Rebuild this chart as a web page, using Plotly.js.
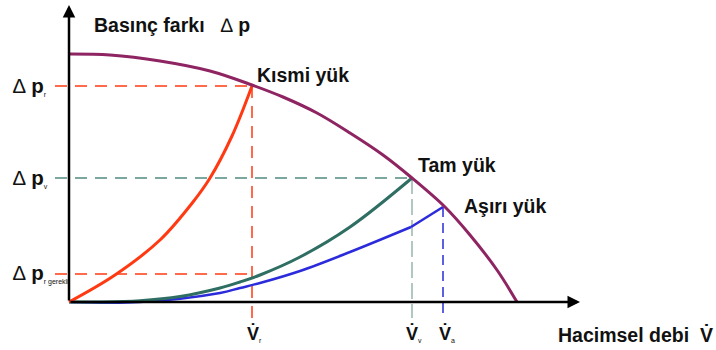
<!DOCTYPE html>
<html>
<head>
<meta charset="utf-8">
<script src="https://cdn.plot.ly/plotly-3.0.1.min.js"></script>
<style>
  html, body { margin: 0; padding: 0; background: #fff; }
  #chart { width: 716px; height: 350px; }
</style>
</head>
<body>
<div id="chart"></div>
<script>
// Pump characteristic (Δp over volume flow), in arbitrary units
const pumpQ  = [0, 0.41, 0.91, 1.41, 1.83, 2.14, 2.48, 2.81, 3.14, 3.43, 3.76, 4.01, 4.28, 4.48];
const pumpDp = [2.48, 2.47, 2.41, 2.31, 2.17, 2.05, 1.89, 1.69, 1.47, 1.24, 0.95, 0.67, 0.32, 0];

// System curve – partial load
const partQ  = [0, 0.46, 0.91, 1.24, 1.41, 1.63, 1.83];
const partDp = [0, 0.27, 0.62, 1.00, 1.24, 1.66, 2.16];

// System curve – full load
const fullQ  = [0, 0.31, 0.71, 1.11, 1.51, 1.71, 1.91, 2.31, 2.81, 3.43];
const fullDp = [0, 0, 0.013, 0.055, 0.14, 0.20, 0.27, 0.45, 0.75, 1.24];

// System curve – overload (bends at the last point before the operating point)
const overQ  = [0, 0.71, 1.51, 1.71, 1.91, 2.31, 2.81, 3.42, 3.74];
const overDp = [0, 0, 0.09, 0.14, 0.19, 0.31, 0.50, 0.75, 0.95];

// Operating points and the required pressure
const opNames = ["Kısmi yük", "Tam yük", "Aşırı yük"];
const opQ     = [1.83, 3.43, 3.74];
const opDp    = [2.16, 1.24, 0.95];
const dpRequired = 0.28;

// Axis labels
const qLabels  = ["r", "v", "a"];
const dpLabels = ["r", "v"];
const yTitle = "Basınç farkı";
const xTitle = "Hacimsel debi";

const RED = "#ff3a12", GREEN = "#2f6e63", BLUE = "#2b2bdc", PURPLE = "#8e2462";
const FAMILY = "Liberation Sans, Arial, sans-serif";
const labelFont = { family: FAMILY, size: 19.5, color: "#111" };
const tickFont  = { family: FAMILY, size: 20.5, color: "#111" };
const flowFont  = { family: FAMILY, size: 18, color: "#111" };
const dashX0 = -0.14, dashYBottom = -0.16;

function line(x, y, color, width, dash, shape) {
  return { x: x, y: y, mode: "lines", hoverinfo: "skip", showlegend: false,
           line: { color: color, width: width, dash: dash || "solid", shape: shape || "linear", smoothing: 1 } };
}

const nOver = overQ.length;
const traces = [
  // reference dashes to the Δp axis
  line([dashX0, opQ[0]], [opDp[0], opDp[0]], RED, 1.5, "12px,8px"),
  line([dashX0, opQ[1]], [opDp[1], opDp[1]], "#4f8a80", 1.5, "12px,8px"),
  line([dashX0, opQ[0]], [dpRequired, dpRequired], RED, 1.5, "12px,8px"),
  // reference dashes to the flow axis
  line([opQ[0], opQ[0]], [opDp[0], dashYBottom], RED, 1.5, "12px,8px"),
  line([opQ[1], opQ[1]], [opDp[1], dashYBottom], "#98b6ae", 1.5, "16px,5px"),
  line([opQ[2], opQ[2]], [opDp[2], dashYBottom], BLUE, 1.5, "10px,6px"),
  // curves
  line(overQ.slice(0, nOver - 1), overDp.slice(0, nOver - 1), BLUE, 2.5, "solid", "spline"),
  line(overQ.slice(nOver - 2), overDp.slice(nOver - 2), BLUE, 2.5, "solid", "linear"),
  line(fullQ, fullDp, GREEN, 3, "solid", "spline"),
  line(partQ, partDp, RED, 3, "solid", "spline"),
  line(pumpQ, pumpDp, PURPLE, 3, "solid", "spline")
];

const sub = s => `<sub><span style="font-size:7px">${s}</span></sub>`;
const vdot = s => `<b>V̇</b>${sub(s)}`;

const annotations = [
  // axes with arrow heads
  { x: 5.11, y: 0, ax: 0, ay: 0, xref: "x", yref: "y", axref: "x", ayref: "y", text: "",
    showarrow: true, arrowhead: 2, arrowsize: 1, arrowwidth: 2.5, arrowcolor: "#000" },
  { x: 0, y: 2.97, ax: 0, ay: 0, xref: "x", yref: "y", axref: "x", ayref: "y", text: "",
    showarrow: true, arrowhead: 2, arrowsize: 1, arrowwidth: 2.5, arrowcolor: "#000" },
  // axis titles
  { x: 0.23, y: 2.77, xanchor: "left", yanchor: "middle", showarrow: false, font: labelFont,
    text: `<b>${yTitle}</b>   ∆ <b>p</b>` },
  { x: 4.87, y: -0.32, xanchor: "left", yanchor: "middle", showarrow: false, font: labelFont,
    text: `<b>${xTitle}</b>  <b>V̇</b>` },
  // operating point labels
  { x: 1.86, y: 2.27, xanchor: "left", yanchor: "middle", showarrow: false, font: labelFont, text: `<b>${opNames[0]}</b>` },
  { x: 3.47, y: 1.37, xanchor: "left", yanchor: "middle", showarrow: false, font: labelFont, text: `<b>${opNames[1]}</b>` },
  { x: 3.93, y: 0.96, xanchor: "left", yanchor: "middle", showarrow: false, font: labelFont, text: `<b>${opNames[2]}</b>` },
  // Δp tick labels
  { x: -0.58, y: opDp[0], xanchor: "left", yanchor: "middle", showarrow: false, font: tickFont, text: `∆ <b>p</b>${sub(dpLabels[0])}` },
  { x: -0.58, y: opDp[1], xanchor: "left", yanchor: "middle", showarrow: false, font: tickFont, text: `∆ <b>p</b>${sub(dpLabels[1])}` },
  { x: -0.58, y: dpRequired + 0.01, xanchor: "left", yanchor: "middle", showarrow: false, font: tickFont, text: `∆ <b>p</b>${sub("r gerekli")}` },
  // flow tick labels
  { x: opQ[0] + 0.02, y: -0.31, xanchor: "center", yanchor: "middle", showarrow: false, font: flowFont, text: vdot(qLabels[0]) },
  { x: opQ[1] + 0.02, y: -0.31, xanchor: "center", yanchor: "middle", showarrow: false, font: flowFont, text: vdot(qLabels[1]) },
  { x: opQ[2] + 0.04, y: -0.31, xanchor: "center", yanchor: "middle", showarrow: false, font: flowFont, text: vdot(qLabels[2]) }
];

const hidden = { visible: false, fixedrange: true };
const layout = {
  width: 716, height: 350,
  margin: { l: 0, r: 0, t: 0, b: 0 },
  paper_bgcolor: "#fff", plot_bgcolor: "#fff",
  xaxis: Object.assign({ range: [-0.69, 6.47] }, hidden),
  yaxis: Object.assign({ range: [-0.48, 3.02] }, hidden),
  showlegend: false,
  annotations: annotations
};

Plotly.newPlot("chart", traces, layout, { staticPlot: true, displayModeBar: false });
</script>
</body>
</html>
